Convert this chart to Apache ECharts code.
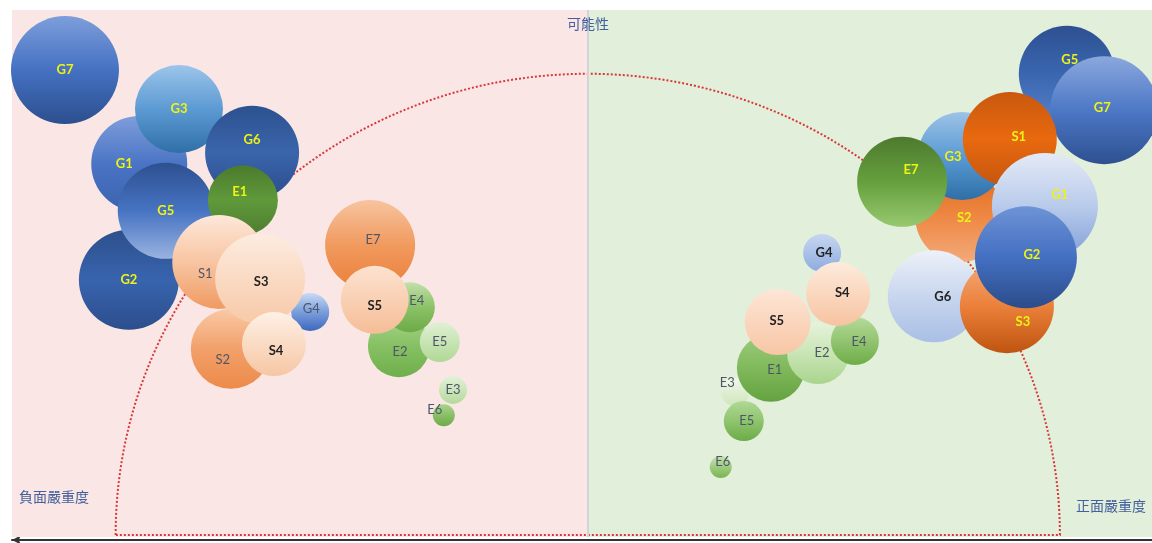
<!DOCTYPE html>
<html><head><meta charset="utf-8">
<script src="https://cdn.jsdelivr.net/npm/echarts@6/dist/echarts.min.js"></script>
<style>html,body{margin:0;padding:0;background:#fff}#c{width:1152px;height:543px}</style>
</head><body><div id="c"></div>
<script>
// ---- data: negative-severity side (left) ----
const negNames      = ['G7','G1','G3','G6','G2','G5','E1','S1','S2','G4','S3','S4','E2','E4','E7','S5','E5','E3','E6'];
const negSeverity   = [-90.8,-77.9,-71.0,-58.3,-79.7,-73.3,-59.9,-64.0,-62.0,-48.2,-56.9,-54.5,-32.8,-30.9,-37.8,-37.0,-25.7,-23.4,-25.0];
const negLikelihood = [88.6,70.8,81.2,72.9,48.8,61.9,63.9,52.2,35.7,42.7,49.0,36.6,36.2,43.6,55.4,45.0,37.0,27.9,23.1];
const negImpact     = [10.8,9.6,8.8,9.4,10.0,9.6,7.0,9.4,8.0,3.8,9.0,6.4,6.2,5.0,9.0,6.8,4.0,2.8,2.2];
// ---- data: positive-severity side (right) ----
const posNames      = ['G5','G7','S2','G3','S1','E7','G6','S3','G1','G2','E3','E5','E6','E1','E2','E4','G4','S4','S5'];
const posSeverity   = [83.2,89.7,64.7,65.0,73.3,54.6,60.1,72.8,79.4,76.1,25.6,27.1,23.1,31.8,40.0,46.4,40.7,43.5,33.0];
const posLikelihood = [87.9,81.0,60.7,72.3,75.5,67.4,45.7,43.8,62.8,53.1,27.5,22.0,13.3,32.1,34.9,37.2,53.9,46.1,40.8];
const posImpact     = [9.6,10.8,9.0,8.8,9.4,9.0,9.2,9.4,10.6,10.2,2.8,4.0,2.2,6.8,6.2,4.8,3.8,6.4,6.6];
// ---- axis labels ----
const yTitle = '可能性';
const negTitle = '負面嚴重度';
const posTitle = '正面嚴重度';

// ---- styles (kept apart from data) ----
const STYLE = {
  neg: {
    G7:{f:['#7D9EDA','#4571C2','#2C4F8E'],t:'y'}, G1:{f:['#7F9EDB','#4A74C4','#3A63AE'],t:'y',o:[-15,0]},
    G3:{f:['#9CC5EA','#5C9AD3','#2F6FA8'],t:'y'}, G6:{f:['#2D518F','#3A65AC','#2B4C8A'],t:'y',o:[0,-13]},
    G2:{f:['#2D4F8C','#3864AE','#2C4E8C'],t:'y'}, G5:{f:['#2E5090','#4673C2','#9AB3E0'],t:'y'},
    E1:{f:['#4C7A2E','#5F9A3A','#4E7C30'],t:'y',o:[-3,-8]}, S1:{f:['#FDE8DA','#F8C5A2','#F09A62'],t:'g',o:[-14,12]},
    S2:{f:['#F9C9A6','#F2A06A','#EC8A4A'],t:'g',o:[-8,11]}, G4:{f:['#C9DAF4','#7A9EDC','#3E68BE'],t:'g',o:[1,-3]},
    S3:{f:['#FDECE0','#FADAC3','#F7C9A8'],t:'d',o:[1,3]}, S4:{f:['#FEF0E6','#FADBC4','#F6C6A4'],t:'d',o:[2,7]},
    E2:{f:['#A8D48A','#86C063','#6FAF4B'],t:'g',o:[1,6]}, E4:{f:['#C2E0AB','#8BC267','#6DAA47'],t:'g',o:[7,-6]},
    E7:{f:['#F7C4A0','#F19A5E','#EA7F3A'],t:'g',o:[3,-5]}, S5:{f:['#FCE2D0','#F9D0B3','#F5BD97'],t:'d',o:[0,6]},
    E5:{f:['#E0F0D4','#C8E4B4','#B0D896'],t:'g'}, E3:{f:['#E3F1D8','#CCE5BA','#B5D99B'],t:'g'},
    E6:{f:['#A8D48A','#8ABF68','#6DAA47'],t:'g',o:[-9,-5]}
  },
  pos: {
    G5:{f:['#2D5090','#3A66B0','#5680C8'],t:'y',o:[3,-14]}, G7:{f:['#8BA8DD','#4D78C6','#2D5090'],t:'y',o:[-2,-2]},
    S2:{f:['#E06A1E','#EE8844','#F3AA7A'],t:'y',o:[4,1]}, G3:{f:['#9DC3E6','#5B9BD5','#2E6FA8'],t:'y',o:[-9,1]},
    S1:{f:['#C9580E','#E8690F','#C4560F'],t:'y',o:[9,-2]}, E7:{f:['#4E7A2F','#65A03D','#98C870'],t:'y',o:[9,-12]},
    G6:{f:['#EDF1F9','#C8D6EE','#A9BFE6'],t:'d',o:[9,1]}, S3:{f:['#F3AC7C','#EB803A','#BE540F'],t:'y',o:[16,16]},
    G1:{f:['#E4EAF6','#B9CBEB','#7F9ED8'],t:'y',o:[15,-11]}, G2:{f:['#6E93D6','#4470C2','#2C4C8A'],t:'y',o:[6,-2]},
    E3:{f:['#F0F7EA','#DEEED2','#CDE6BB'],t:'g',o:[-8,-9]}, E5:{f:['#B0D896','#8EC56E','#6DAA47'],t:'g',o:[3,0]},
    E6:{f:['#C5E2B0','#9FCB81','#7AB552'],t:'g',o:[2,-5]}, E1:{f:['#9DCC7E','#80B95B','#64A23F'],t:'g',o:[4,2]},
    E2:{f:['#E6F3DC','#C9E5B5','#A9D48D'],t:'g',o:[4,0]}, E4:{f:['#B5DA9A','#92C471','#6EAD47'],t:'g',o:[4,1]},
    G4:{f:['#C6D6F0','#AAC1E8','#8EABDF'],t:'d',o:[2,0]}, S4:{f:['#FDEBDD','#FAD7BE','#F6C3A0'],t:'d',o:[4,-1]},
    S5:{f:['#FDE6D6','#FAD6BD','#F7C6A5'],t:'d',o:[-1,-1]}
  }
};
const TEXT = {
  y:{color:'#EEF215',fontWeight:'bold',fontSize:13},
  g:{color:'#4E5668',fontWeight:'normal',fontSize:13},
  d:{color:'#222222',fontWeight:'bold',fontSize:13}
};
const ARC = {cx:0, base:0.4, rx:82, ry:87.5};

function grad(stops){
  return {type:'linear',x:0,y:0,x2:0,y2:1,
    colorStops:stops.map((c,i)=>({offset:i/(stops.length-1),color:c}))};
}
function build(names, xs, ys, ss, side){
  return names.map((n,i)=>{
    const st = STYLE[side][n];
    const lab = Object.assign({}, TEXT[st.t]);
    if (st.o) lab.offset = st.o;
    return {name:n, value:[xs[i],ys[i],ss[i]],
      itemStyle:{color:grad(st.f),opacity:1},
      label:lab};
  });
}

const chart = echarts.init(document.getElementById('c'), null, {renderer:'canvas'});
const titleStyle = {fontSize:14,color:'#44609C',fontFamily:'Noto Sans CJK TC',fontWeight:'normal'};
const bubbleLabel = {show:true,position:'inside',formatter:'{b}',fontSize:13,fontFamily:'Lato'};

chart.setOption({
  animation:false,
  backgroundColor:'#ffffff',
  title:[
    {text:yTitle,left:567,top:17,padding:0,textStyle:titleStyle},
    {text:negTitle,left:19,top:490,padding:0,textStyle:titleStyle},
    {text:posTitle,left:1076,top:499,padding:0,textStyle:titleStyle}
  ],
  grid:{left:12,right:0,top:10,bottom:6,containLabel:false},
  xAxis:{type:'value',min:-100,max:98,offset:3,
    axisLine:{show:true,onZero:false,symbol:['arrow','none'],symbolSize:[7,9],lineStyle:{color:'#333',width:2}},
    axisTick:{show:false},axisLabel:{show:false},splitLine:{show:false}},
  yAxis:{type:'value',min:0,max:100,show:false,splitLine:{show:false}},
  series:[
    {type:'scatter',name:'neg',z:2,
      symbolSize:v=>v[2]*10,
      itemStyle:{opacity:1},
      label:bubbleLabel,
      emphasis:{disabled:true},
      data:build(negNames,negSeverity,negLikelihood,negImpact,'neg'),
      markArea:{silent:true,label:{show:false},
        data:[
          [{xAxis:-100,yAxis:0,itemStyle:{color:'#FAE7E5',opacity:1}},{xAxis:0,yAxis:100}],
          [{xAxis:0,yAxis:0,itemStyle:{color:'#E2EFDA',opacity:1}},{xAxis:98,yAxis:100}]
        ]},
      markLine:{silent:true,symbol:['none','none'],label:{show:false},
        lineStyle:{color:'#D4D4D8',width:2,type:'solid'},
        data:[{xAxis:0}]}
    },
    {type:'scatter',name:'pos',z:2,
      symbolSize:v=>v[2]*10,
      itemStyle:{opacity:1},
      label:bubbleLabel,
      emphasis:{disabled:true},
      data:build(posNames,posSeverity,posLikelihood,posImpact,'pos')}
  ]
});

// dotted half-ellipse guide
const c = chart.convertToPixel({gridIndex:0},[ARC.cx,ARC.base]);
const e = chart.convertToPixel({gridIndex:0},[ARC.cx+ARC.rx,ARC.base+ARC.ry]);
const rx = e[0]-c[0], ry = c[1]-e[1];
const pts = [];
for(let a=180;a>=0;a-=1){
  const r = a*Math.PI/180;
  pts.push([c[0]+rx*Math.cos(r), c[1]-ry*Math.sin(r)]);
}
pts.push([c[0]-rx,c[1]]);
chart.setOption({graphic:[{type:'polyline',silent:true,z:1.5,
  shape:{points:pts},
  style:{stroke:'#D9373B',lineWidth:2,lineDash:[2,2],fill:null}}]});
</script>
</body></html>
